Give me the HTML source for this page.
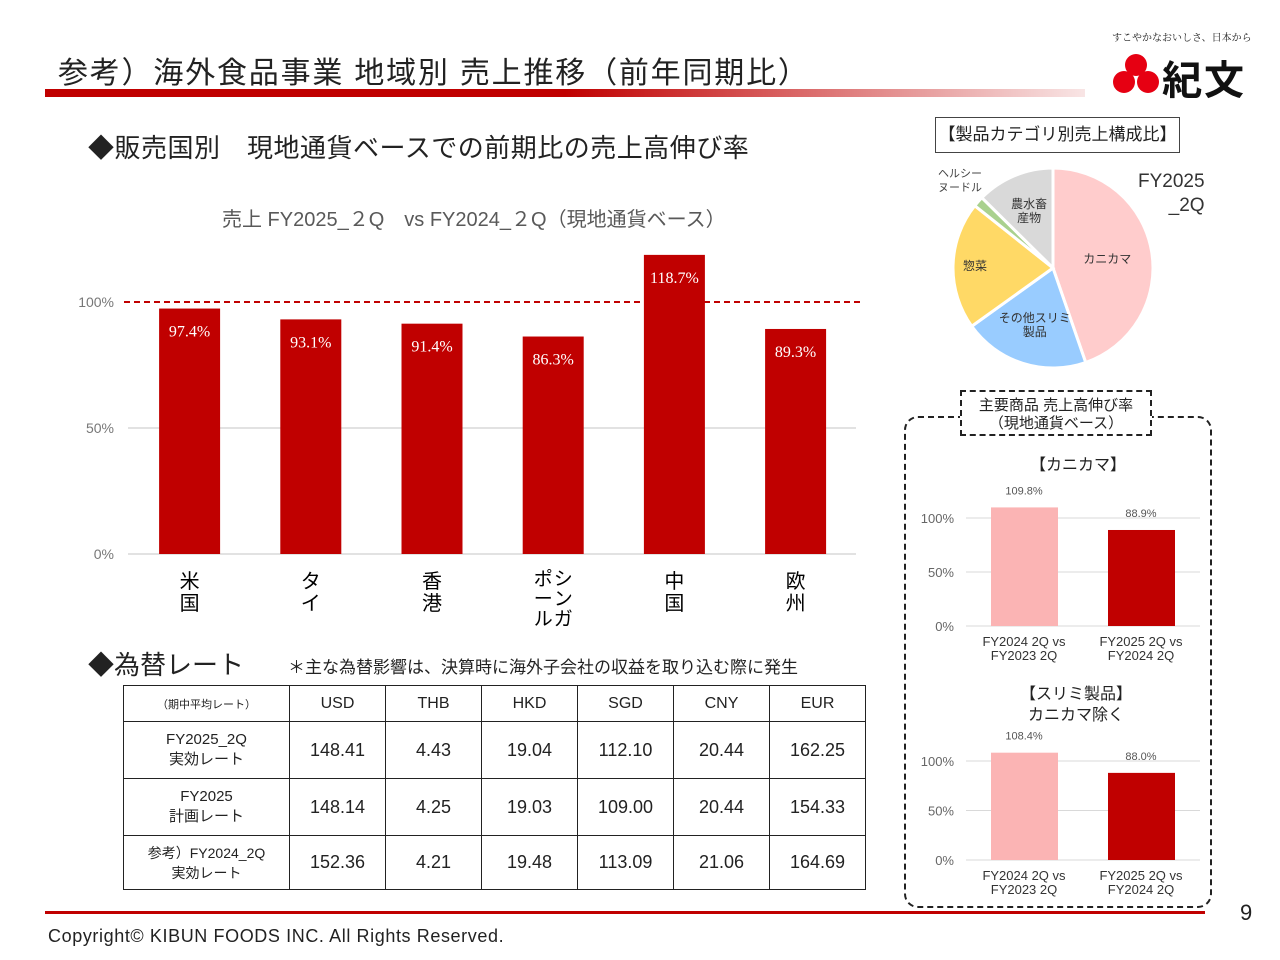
<!DOCTYPE html>
<html><head><meta charset="utf-8">
<style>
body{margin:0;width:1280px;height:960px;background:#fff;font-family:"Liberation Sans","Noto Sans CJK JP",sans-serif;position:relative;overflow:hidden;color:#222}
.a{position:absolute}
table{border-collapse:collapse;position:absolute;left:123px;top:685px}
td{border:1px solid #222;text-align:center;padding:0;font-size:18px}
</style></head><body>
<div class="a" style="left:58px;top:48px;font-size:30px;color:#222;letter-spacing:1.8px">参考）海外食品事業 地域別 売上推移（前年同期比）</div>
<div class="a" style="left:45px;top:89px;width:1040px;height:8px;background:linear-gradient(to right,#c00000 0%,#c00000 50%,rgba(192,0,0,0.1) 100%)"></div>
<div class="a" style="left:1112px;top:29px;font-size:10px;font-family:'Noto Serif CJK SC',serif">すこやかなおいしさ、日本から</div>
<svg class="a" style="left:1112px;top:52px" width="48" height="44"><circle cx="24" cy="13" r="11" fill="#e60012"/><circle cx="12" cy="30" r="11" fill="#e60012"/><circle cx="36" cy="30" r="11" fill="#e60012"/></svg>
<div class="a" style="left:1162px;top:48px;font-size:40px;font-weight:bold;color:#111;letter-spacing:2px">紀文</div>

<div class="a" style="left:88px;top:128px;font-size:26px;letter-spacing:0.5px">◆販売国別　現地通貨ベースでの前期比の売上高伸び率</div>
<div class="a" style="left:222px;top:203px;font-size:20px;color:#595959">売上  FY2025_２Q　vs FY2024_２Q（現地通貨ベース）</div>

<svg class="a" id="main" style="left:0;top:0" width="880" height="640"></svg>

<div class="a" style="left:88px;top:645px;font-size:26px">◆為替レート</div>
<div class="a" style="left:288px;top:653px;font-size:17px">＊主な為替影響は、決算時に海外子会社の収益を取り込む際に発生</div>

<table>
<tr style="height:36px"><td style="width:165px;font-size:11px">（期中平均レート）</td><td style="width:95px;font-size:16px">USD</td><td style="width:95px;font-size:16px">THB</td><td style="width:95px;font-size:16px">HKD</td><td style="width:95px;font-size:16px">SGD</td><td style="width:95px;font-size:16px">CNY</td><td style="width:95px;font-size:16px">EUR</td></tr>
<tr style="height:57px"><td style="font-size:15px">FY2025_2Q<br>実効レート</td><td>148.41</td><td>4.43</td><td>19.04</td><td>112.10</td><td>20.44</td><td>162.25</td></tr>
<tr style="height:57px"><td style="font-size:15px">FY2025<br>計画レート</td><td>148.14</td><td>4.25</td><td>19.03</td><td>109.00</td><td>20.44</td><td>154.33</td></tr>
<tr style="height:54px"><td style="font-size:14px">参考）FY2024_2Q<br>実効レート</td><td>152.36</td><td>4.21</td><td>19.48</td><td>113.09</td><td>21.06</td><td>164.69</td></tr>
</table>

<div class="a" style="left:45px;top:911px;width:1160px;height:3px;background:#c00000"></div>
<div class="a" style="left:48px;top:926px;font-size:18px;letter-spacing:0.6px">Copyright©  KIBUN FOODS INC. All Rights Reserved.</div>
<div class="a" style="left:1240px;top:900px;font-size:22px">9</div>

<div class="a" style="left:935px;top:117px;width:243px;height:34px;border:1px solid #444;font-size:17px;line-height:34px;text-align:center">【製品カテゴリ別売上構成比】</div>
<div class="a" style="left:1138px;top:170px;font-size:19px;color:#333;text-align:right;line-height:24px">FY2025<br>_2Q</div>
<svg class="a" id="pie" style="left:900px;top:160px" width="260" height="220"></svg>

<div class="a" style="left:904px;top:416px;width:304px;height:488px;border:2px dashed #222;border-radius:14px"></div>
<div class="a" style="left:960px;top:390px;width:192px;height:46px;border:2px dashed #222;background:#fff;font-size:15px;text-align:center;line-height:18px;padding-top:5px;box-sizing:border-box">主要商品 売上高伸び率<br>（現地通貨ベース）</div>
<div class="a" style="left:1030px;top:451px;font-size:16px">【カニカマ】</div>
<div class="a" style="left:1020px;top:684px;font-size:16px;text-align:center;line-height:21px">【スリミ製品】<br>カニカマ除く</div>
<svg class="a" id="s1" style="left:900px;top:470px" width="310" height="200"></svg>
<svg class="a" id="s2" style="left:900px;top:720px" width="310" height="180"></svg>

<script>
const NS="http://www.w3.org/2000/svg";
function mk(p,t,at,txt){const e=document.createElementNS(NS,t);for(const k in at)e.setAttribute(k,at[k]);if(txt!==undefined)e.textContent=txt;p.appendChild(e);return e;}

const regions=[["米","国"],["タ","イ"],["香","港"],["シ","ン","ガ","ポ","ー","ル"],["中","国"],["欧","州"]];
const growth=[97.4,93.1,91.4,86.3,118.7,89.3];
const yTicks=[0,50,100];

const kaniCats=[["FY2024  2Q vs","FY2023  2Q"],["FY2025  2Q vs","FY2024  2Q"]];
const kaniVals=[109.8,88.9];
const surimiCats=[["FY2024  2Q vs","FY2023  2Q"],["FY2025  2Q vs","FY2024  2Q"]];
const surimiVals=[108.4,88.0];
const smallTicks=[0,50,100];

const pieLabels=["カニカマ","その他スリミ製品","惣菜","ヘルシーヌードル","農水畜産物"];
const pieShares=[44.7,20.4,20.6,1.7,12.6];

// main chart
(function(){
 const s=document.getElementById('main');
 const y=v=>554-v*2.52, x0=129, step=121.2, bw=61;
 yTicks.forEach(t=>{
  if(t!==100){const l=mk(s,'line',{x1:128,x2:856,y1:y(t),y2:y(t),stroke:'#d9d9d9','stroke-width':1.5});}
  const tx=mk(s,'text',{x:114,y:y(t)+5,'text-anchor':'end','font-size':14,fill:'#777'},t+'%');
  
 });
 const ref=mk(s,'line',{x1:124,x2:860,y1:y(100),y2:y(100),stroke:'#c00000','stroke-width':2,'stroke-dasharray':'6,4'});
 
 growth.forEach((v,i)=>{
  const cx=x0+step*i+step/2;
  const r=mk(s,'rect',{x:cx-bw/2,y:y(v),width:bw,height:554-y(v),fill:'#c00000'});
  
  const t=mk(s,'text',{x:cx,y:y(v)+28,'text-anchor':'middle','font-size':16,fill:'#fff','font-family':'Liberation Serif,serif'},v.toFixed(1)+'%');
  
  const chars=regions[i];
  if(chars.length<=2){chars.forEach((c,j)=>{const tt=mk(s,'text',{x:cx,y:588+j*22,'text-anchor':'middle','font-size':20},c);});}
  else{[[0,1,2],[3,4,5]].forEach((col,ci)=>col.forEach((k,j)=>{const tt=mk(s,'text',{x:cx+10-ci*20,y:585+j*20,'text-anchor':'middle','font-size':19},chars[k]);}));}
 });
})();

// small charts
function small(id,cats,vals,y0,scale,top){
 const s=document.getElementById(id);
 const y=v=>y0-top-v*scale;
 smallTicks.forEach(t=>{
  const l=mk(s,'line',{x1:66,x2:300,y1:y(t),y2:y(t),stroke:'#d9d9d9','stroke-width':1});
  
  const tx=mk(s,'text',{x:54,y:y(t)+5,'text-anchor':'end','font-size':13,fill:'#666'},t+'%');
  
 });
 const cols=['#fbb4b4','#c00000'];
 vals.forEach((v,i)=>{
  const cx=124+i*117;
  const r=mk(s,'rect',{x:cx-33,y:y(v),width:67,height:y(0)-y(v),fill:cols[i]});
  
  const t=mk(s,'text',{x:cx,y:y(v)-13,'text-anchor':'middle','font-size':11,fill:'#555'},v.toFixed(1)+'%');
  
  cats[i].forEach((c,j)=>{const tt=mk(s,'text',{x:cx,y:y(0)+20+j*14,'text-anchor':'middle','font-size':13,fill:'#333'},c);});
 });
}
small('s1',kaniCats,kaniVals,626,1.08,470);
small('s2',surimiCats,surimiVals,860,0.99,720);

// pie
(function(){
 const s=document.getElementById('pie');
 const cx=153,cy=108,R=100;
 const cols=['#ffcccc','#99ccff','#ffd966','#a9d18e','#d9d9d9'];
 const total=pieShares.reduce((a,b)=>a+b,0);
 let a0=0;
 const lab=[["カニカマ"],["その他スリミ","製品"],["惣菜"],[],["農水畜","産物"]];
 const lr=[0.55,0.6,0.78,0,0.62];
 pieShares.forEach((v,i)=>{
  const a1=a0+v/total*2*Math.PI;
  const p=(a)=>[cx+R*Math.sin(a),cy-R*Math.cos(a)];
  const [x1,y1]=p(a0),[x2,y2]=p(a1);
  const d=`M${cx},${cy}L${x1},${y1}A${R},${R} 0 ${a1-a0>Math.PI?1:0} 1 ${x2},${y2}Z`;
  const e=mk(s,'path',{d,fill:cols[i],stroke:'#fff','stroke-width':3});
  
  const am=(a0+a1)/2;
  lab[i].forEach((t,j)=>{const tx=mk(s,'text',{x:cx+R*lr[i]*Math.sin(am),y:cy-R*lr[i]*Math.cos(am)+4+(j-(lab[i].length-1)/2)*14,'text-anchor':'middle','font-size':12,fill:'#333'},t);});
  a0=a1;
 });
 ['ヘルシー','ヌードル'].forEach((t,j)=>{const tx=mk(s,'text',{x:38,y:17+j*14,'font-size':11,fill:'#444'},t);});
})();
</script>
</body></html>
